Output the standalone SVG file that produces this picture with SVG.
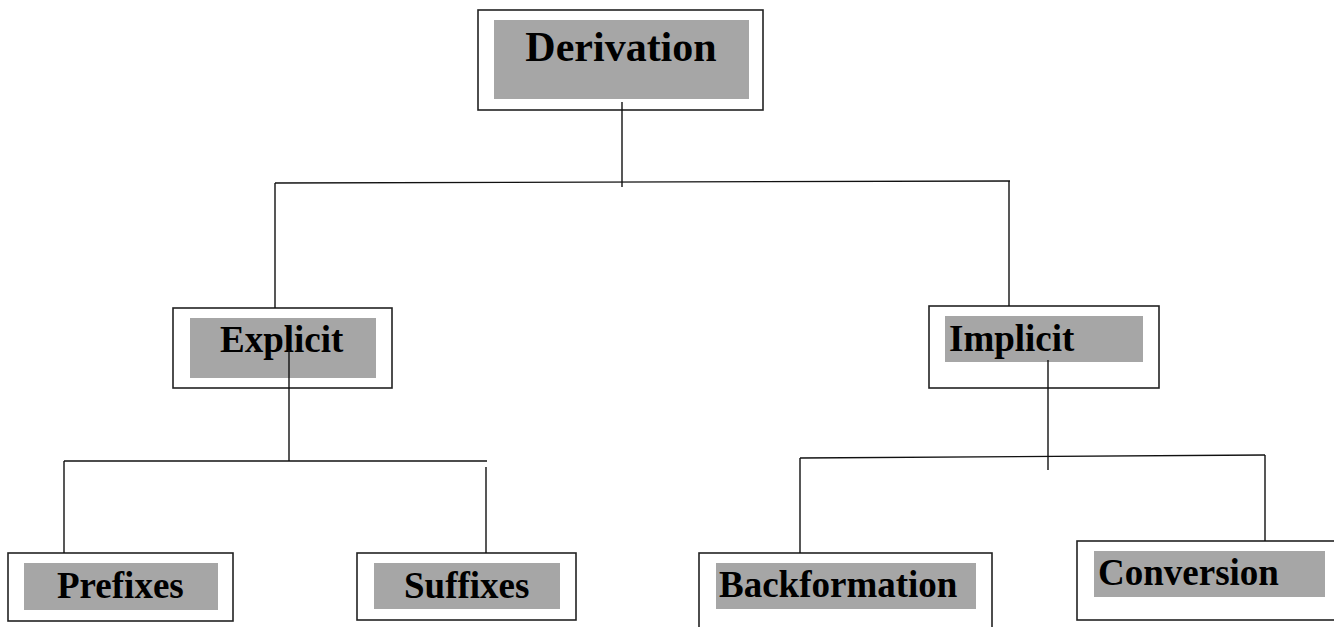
<svg xmlns="http://www.w3.org/2000/svg" width="1334" height="627" viewBox="0 0 1334 627">
<style>
.box{fill:#fff;stroke:#222;stroke-width:1.6}
.shade{fill:#a6a6a6;stroke:none}
.lbl{font-family:"Liberation Serif","Times New Roman",serif;font-weight:bold;fill:#000;font-size:37px}
.conn line{stroke:#111;stroke-width:1.4}
</style>
<rect width="1334" height="627" fill="#fff"/>
<g id="node-derivation">
<rect class="box" x="478" y="10" width="285" height="100"/>
<rect class="shade" x="494" y="20" width="255" height="79"/>
<text class="lbl" x="621" y="61" text-anchor="middle" style="font-size:42px">Derivation</text>
</g>
<g id="node-explicit">
<rect class="box" x="173" y="308" width="219" height="80"/>
<rect class="shade" x="190" y="318" width="186" height="60"/>
<text class="lbl" x="220" y="352">Explicit</text>
</g>
<g id="node-implicit">
<rect class="box" x="929" y="306" width="230" height="82"/>
<rect class="shade" x="945" y="316" width="198" height="46"/>
<text class="lbl" x="949" y="351">Implicit</text>
</g>
<g id="node-prefixes">
<rect class="box" x="8" y="553" width="225" height="68"/>
<rect class="shade" x="24" y="563" width="194" height="47"/>
<text class="lbl" x="57" y="598">Prefixes</text>
</g>
<g id="node-suffixes">
<rect class="box" x="357" y="553" width="219" height="67"/>
<rect class="shade" x="374" y="563" width="186" height="46"/>
<text class="lbl" x="404" y="598">Suffixes</text>
</g>
<g id="node-backformation">
<rect class="box" x="699" y="553" width="293" height="90"/>
<rect class="shade" x="716" y="563" width="260" height="46"/>
<text class="lbl" x="719" y="597">Backformation</text>
</g>
<g id="node-conversion">
<rect class="box" x="1077" y="541" width="270" height="79"/>
<rect class="shade" x="1094" y="551" width="231" height="46"/>
<text class="lbl" x="1098" y="585">Conversion</text>
</g>
<g id="connectors" class="conn">
<line x1="622" y1="102" x2="622" y2="187"/>
<line x1="275" y1="183" x2="1010" y2="181"/>
<line x1="275" y1="183" x2="275" y2="308"/>
<line x1="1009" y1="181" x2="1009" y2="306"/>
<line x1="289" y1="350" x2="289" y2="461"/>
<line x1="64" y1="461" x2="487" y2="461"/>
<line x1="64" y1="461" x2="64" y2="553"/>
<line x1="486" y1="467" x2="486" y2="553"/>
<line x1="1048" y1="360" x2="1048" y2="470"/>
<line x1="800" y1="458" x2="1265" y2="455"/>
<line x1="800" y1="458" x2="800" y2="553"/>
<line x1="1265" y1="455" x2="1265" y2="541"/>
</g>
</svg>
